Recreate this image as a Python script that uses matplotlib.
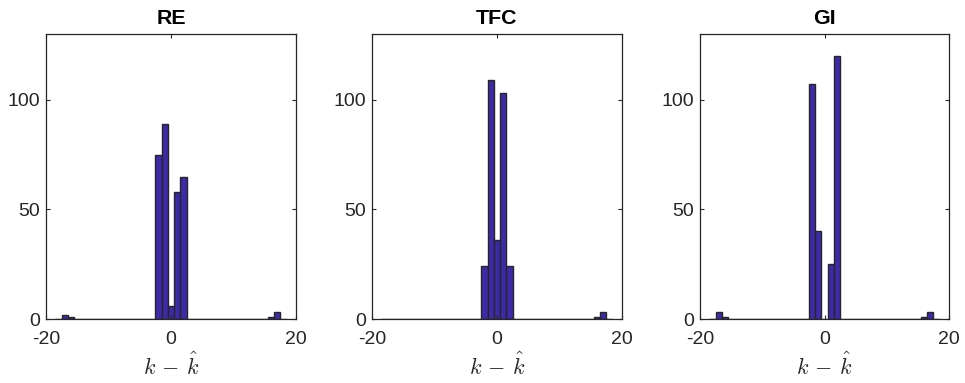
import numpy as np
import matplotlib
matplotlib.use("Agg")
import matplotlib.pyplot as plt

plt.rcParams['font.family'] = ['Liberation Sans', 'DejaVu Sans']
plt.rcParams['mathtext.fontset'] = 'cm'

# bin centres (k - k_hat), unit-width bins
bin_centers = list(range(-18, 19))

def counts_from(d):
    return [d.get(c, 0) for c in bin_centers]

re_counts = counts_from({-17: 2, -16: 1, -2: 75, -1: 89, 0: 6, 1: 58, 2: 65, 16: 1, 17: 3})
tfc_counts = counts_from({-2: 24, -1: 109, 0: 36, 1: 103, 2: 24, 16: 1, 17: 3})
gi_counts = counts_from({-17: 3, -16: 1, -2: 107, -1: 40, 0: 0, 1: 25, 2: 120, 16: 1, 17: 3})

titles = ["RE", "TFC", "GI"]
series = [re_counts, tfc_counts, gi_counts]
xticks = [-20, 0, 20]
yticks = [0, 50, 100]

W, H = 965, 383
fig = plt.figure(figsize=(W / 100, H / 100), dpi=100)

lefts = [46, 372, 700]
widths = [250, 250, 249]
top_px, bot_px = 34, 319

dark = '#262626'
face = '#3d2aa8'

for left, w, title, counts in zip(lefts, widths, titles, series):
    ax = fig.add_axes([left / W, (H - bot_px) / H, w / W, (bot_px - top_px) / H])
    ax.bar(bin_centers, counts, width=1.0, color=face, edgecolor=dark, linewidth=1.0)
    ax.set_xlim(-20, 20)
    ax.set_ylim(0, 130)
    ax.set_xticks(xticks)
    ax.set_xticklabels([str(t) for t in xticks])
    ax.set_yticks(yticks)
    ax.tick_params(direction='in', length=3, width=0.8, colors=dark, labelcolor=dark,
                   labelsize=14, top=True, right=True)
    ax.tick_params(axis='x', pad=9)
    ax.tick_params(axis='y', pad=4)
    for s in ax.spines.values():
        s.set_color(dark)
        s.set_linewidth(0.9)
    ax.set_title(title, fontsize=15.4, fontweight='bold', color='black', pad=7)
    ax.set_xlabel(r'$k\,-\,\hat{k}$', fontsize=16, color=dark, labelpad=3)

fig.savefig('out.png', dpi=100)
